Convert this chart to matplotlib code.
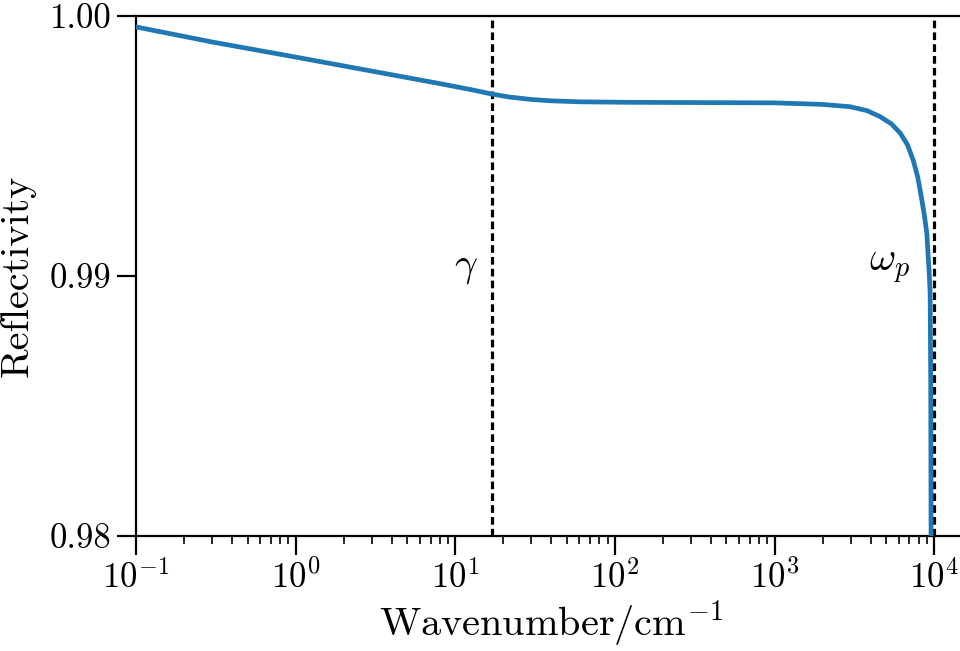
import matplotlib
import matplotlib.pyplot as plt
import numpy as np

matplotlib.use("Agg")

# Values
wavenumber = [0.1, 0.3, 1.0, 3.4, 8.0, 13.0, 16.9, 22.0, 30.0, 39.0, 60.0, 124.0, 342.0,
              1000.0, 2000.0, 2980.0, 3800.0, 4590.0, 5400.0, 6130.0, 6800.0,
              7390.0, 7900.0, 8380.0, 8700.0, 9000.0, 9130.0, 9300.0, 9440.0, 9520.0, 9570.0]
reflectivity = [0.99958, 0.99900, 0.99842, 0.99782, 0.99740, 0.99715, 0.99700, 0.99688,
                0.99679, 0.99674, 0.99670, 0.99668, 0.99667,
                0.99666, 0.99660, 0.99651, 0.99636, 0.99613, 0.99585, 0.99550, 0.99505,
                0.99446, 0.99380, 0.99292, 0.99230, 0.99165, 0.99100, 0.99020, 0.98935,
                0.98600, 0.97980]
gamma = 16.9
omega_p = 10000.0

plt.rcParams.update(
    {
        "font.family": "serif",
        "font.serif": ["cmr10"],
        "mathtext.fontset": "cm",
        "axes.formatter.use_mathtext": True,
        "axes.unicode_minus": False,
    }
)

fig = plt.figure(figsize=(9.6, 6.51), dpi=100)
# axes run past the right edge of the figure, as in the reference
ax = fig.add_axes([0.1417, 0.1767, 0.8646, 0.7987])

ax.plot(wavenumber, reflectivity, color="#1f77b4", linewidth=3.4, zorder=3)
ax.axvline(gamma, color="black", linestyle="--", linewidth=2.3, dashes=(2.4, 1.3))
ax.axvline(omega_p, color="black", linestyle="--", linewidth=2.3, dashes=(2.4, 1.3))

ax.text(13.9, 0.9903, r"$\gamma$", fontsize=29, ha="right", va="center")
ax.text(7080, 0.9903, r"$\omega_p$", fontsize=29, ha="right", va="center")

ax.set_xscale("log")
ax.set_xlim(0.1, 10 ** 4.2)
ax.set_ylim(0.98, 1.0)
ax.set_yticks([0.98, 0.99, 1.00])
ax.set_yticklabels(["0.98", "0.99", "1.00"])

ax.set_xlabel(r"Wavenumber/cm$^{-1}$", fontsize=29, labelpad=2)
ax.set_ylabel("Reflectivity", fontsize=29, labelpad=10)

for side in ["top", "right", "left", "bottom"]:
    ax.spines[side].set_linewidth(1.6)

ax.tick_params(axis="both", which="major", labelsize=25, length=14, width=1.6, direction="out")
ax.tick_params(axis="both", which="minor", length=6, width=1.2, direction="out")
ax.tick_params(axis="y", which="minor", left=False)

fig.savefig("out.png", dpi=100)
